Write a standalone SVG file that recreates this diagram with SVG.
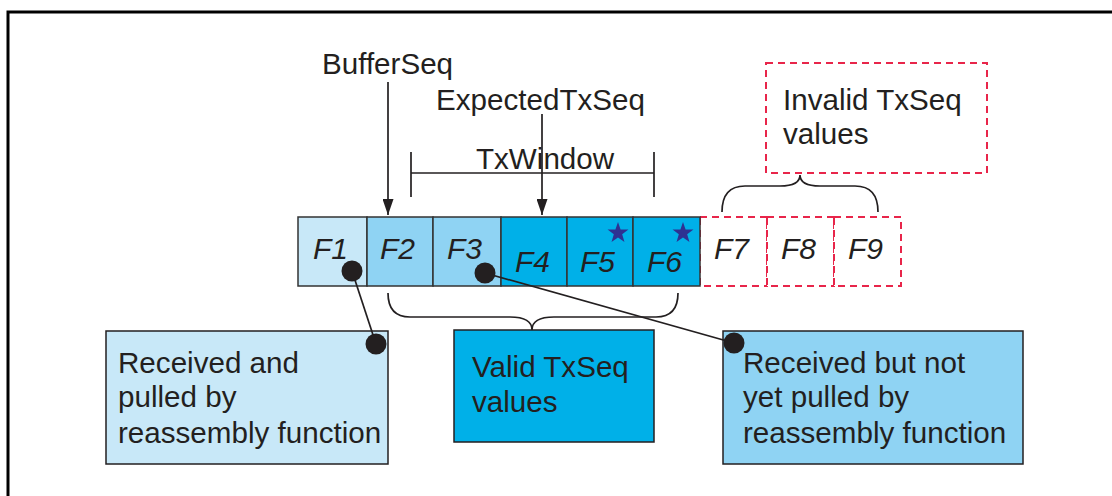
<svg xmlns="http://www.w3.org/2000/svg" width="1112" height="496" viewBox="0 0 1112 496">
<style>
.t{font-family:"Liberation Sans",Arial,sans-serif;font-size:29.6px;fill:#231f20}
.fi{font-family:"Liberation Sans",Arial,sans-serif;font-size:30px;font-style:italic;fill:#231f20}
.cell{stroke:#333;stroke-width:1.5}
.c1{fill:#c8e8f8}
.c2{fill:#8fd3f3}
.c3{fill:#00b0e8}
.dash{fill:#fff;stroke:#e8254a;stroke-width:2;stroke-dasharray:7,5}
.ln{stroke:#231f20;stroke-width:1.7;fill:none}
.box{stroke:#231f20;stroke-width:1.5}
.dot{fill:#231f20}
.star{fill:#2e3192}
</style>
<defs>
<marker id="ah" markerUnits="userSpaceOnUse" markerWidth="16" markerHeight="11" refX="16" refY="5.5" orient="auto" viewBox="0 0 16 11">
<path d="M0,0 L16,5.5 L0,11 Z" fill="#231f20"/>
</marker>
<path id="starShape" d="M0,-11 L2.59,-3.56 L10.46,-3.4 L4.18,1.36 L6.47,8.9 L0,4.4 L-6.47,8.9 L-4.18,1.36 L-10.46,-3.4 L-2.59,-3.56 Z"/>
</defs>

<path d="M8,496 L8,12 L1112,12" fill="none" stroke="#000" stroke-width="3"/>

<g id="invalid-cells">
<rect class="dash" x="700" y="217" width="67" height="69"/>
<rect class="dash" x="767" y="217" width="67" height="69"/>
<rect class="dash" x="834" y="217" width="67" height="69"/>
<text class="fi" x="714" y="259">F7</text>
<text class="fi" x="781" y="259">F8</text>
<text class="fi" x="848" y="259">F9</text>
</g>

<g id="F1"><rect class="cell c1" x="298" y="217" width="69" height="69"/><text class="fi" x="313" y="259">F1</text></g>
<g id="F2"><rect class="cell c2" x="367" y="217" width="66" height="69"/><text class="fi" x="380" y="259">F2</text></g>
<g id="F3"><rect class="cell c2" x="433" y="217" width="68" height="69"/><text class="fi" x="447" y="259">F3</text></g>
<g id="F4"><rect class="cell c3" x="501" y="217" width="66" height="69"/><text class="fi" x="515" y="272">F4</text></g>
<g id="F5"><rect class="cell c3" x="567" y="217" width="66" height="69"/><text class="fi" x="580" y="272">F5</text><use href="#starShape" class="star" x="618" y="233"/></g>
<g id="F6"><rect class="cell c3" x="633" y="217" width="67" height="69"/><text class="fi" x="647" y="272">F6</text><use href="#starShape" class="star" x="683" y="233"/></g>

<g id="labels">
<text class="t" x="322" y="74">BufferSeq</text>
<text class="t" x="436" y="110">ExpectedTxSeq</text>
<text class="t" x="476" y="169">TxWindow</text>
</g>

<g id="invalid-box">
<rect class="dash" x="766" y="63" width="221" height="110"/>
<text class="t" x="783" y="110">Invalid TxSeq</text>
<text class="t" x="783" y="144">values</text>
</g>

<g id="box-pulled">
<rect class="box c1" x="106" y="331" width="282" height="133"/>
<text class="t" x="118" y="373">Received and</text>
<text class="t" x="118" y="407">pulled by</text>
<text class="t" x="118" y="443">reassembly function</text>
</g>

<g id="box-valid">
<rect class="box c3" x="454" y="330" width="200" height="112"/>
<text class="t" x="472" y="377">Valid TxSeq</text>
<text class="t" x="472" y="412">values</text>
</g>

<g id="box-notpulled">
<rect class="box c2" x="723" y="331" width="300" height="133"/>
<text class="t" x="743" y="373">Received but not</text>
<text class="t" x="743" y="407">yet pulled by</text>
<text class="t" x="743" y="443">reassembly function</text>
</g>

<g id="connectors">
<line class="ln" x1="388" y1="82" x2="388" y2="215" marker-end="url(#ah)"/>
<line class="ln" x1="542" y1="114" x2="542" y2="215" marker-end="url(#ah)"/>
<line class="ln" x1="411" y1="173" x2="654" y2="173"/>
<line class="ln" x1="411" y1="152" x2="411" y2="197"/>
<line class="ln" x1="654" y1="152" x2="654" y2="197"/>
<path class="ln" d="M388,293 Q388,317 410,317 L510,317 Q532,317 532,330 Q532,317 554,317 L656,317 Q678,317 678,293"/>
<path class="ln" d="M722,212 Q722,186 745,186 L780,186 Q800,186 800,175 Q800,186 820,186 L855,186 Q878,186 878,212"/>
<line class="ln" x1="352" y1="271" x2="376" y2="344"/>
<line class="ln" x1="485" y1="273" x2="734" y2="343"/>
<circle class="dot" cx="352" cy="271" r="10.5"/>
<circle class="dot" cx="376" cy="344" r="10.5"/>
<circle class="dot" cx="485" cy="273" r="10.5"/>
<circle class="dot" cx="734" cy="343" r="10.5"/>
</g>
</svg>
